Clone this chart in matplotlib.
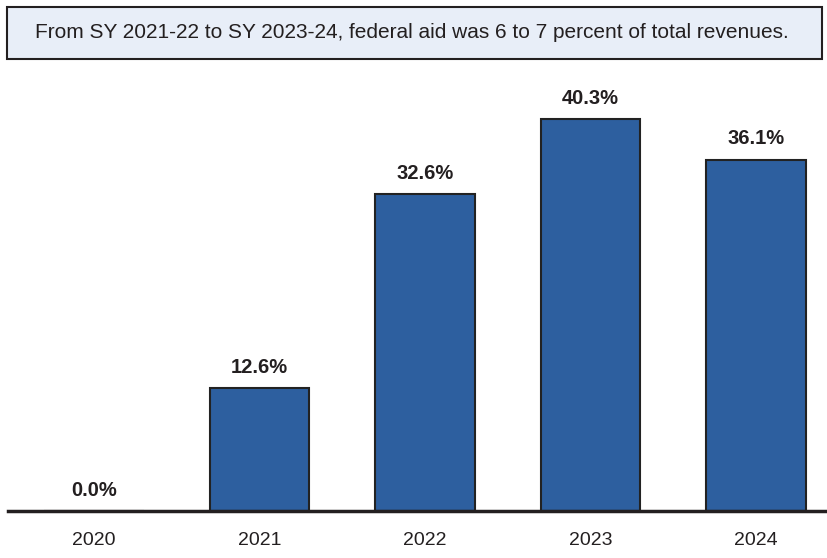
import matplotlib
matplotlib.use("Agg")
import matplotlib.pyplot as plt
from matplotlib.patches import Rectangle
from matplotlib import font_manager

years = ["2020", "2021", "2022", "2023", "2024"]
values = [0.0, 12.6, 32.6, 40.3, 36.1]
labels = ["0.0%", "12.6%", "32.6%", "40.3%", "36.1%"]
title = "From SY 2021-22 to SY 2023-24, federal aid was 6 to 7 percent of total revenues."

names = {f.name for f in font_manager.fontManager.ttflist}
fam = "Liberation Sans Narrow" if "Liberation Sans Narrow" in names else "Liberation Sans"
plt.rcParams['font.family'] = [fam, 'DejaVu Sans']

fig = plt.figure(figsize=(8.28, 5.58), dpi=100)
W, H = 828, 558
base_px = 511
top_px = 70
ax = fig.add_axes([8 / W, (H - base_px) / H, 1 - 8 / W, (base_px - top_px) / H])
x = list(range(len(years)))
ax.bar(x, values, width=0.6, color="#2D5F9F", edgecolor="#222222", linewidth=1.5, zorder=2)
ax.set_xlim(-0.52, 4.435)
ax.set_ylim(0, 45.3)
for xi, v, lab in zip(x, values, labels):
    ax.annotate(lab, (xi, v), xytext=(0, 8), textcoords="offset points",
                ha="center", va="bottom", fontsize=14.5, fontweight="bold", color="#231f20")
for s in ["top", "right", "left"]:
    ax.spines[s].set_visible(False)
ax.spines["bottom"].set_linewidth(2.5)
ax.spines["bottom"].set_color("#231f20")
ax.set_yticks([])
ax.set_xticks(x)
ax.set_xticklabels(years, fontsize=14, color="#231f20")
ax.tick_params(axis="x", length=0, pad=15)

# header box
fig.patches.append(Rectangle((7 / W, 1 - 59 / H), 815 / W, 52 / H, transform=fig.transFigure,
                             facecolor="#E8EEF8", edgecolor="#231f20", linewidth=1.5))
fig.text(412 / W, 1 - 33 / H, title, ha="center", va="center", fontsize=15, color="#231f20")

fig.savefig("out.png", dpi=100)
